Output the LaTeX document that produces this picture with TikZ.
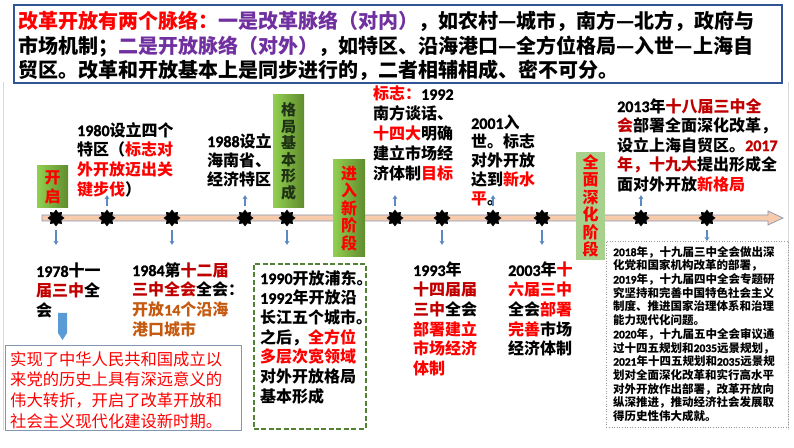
\documentclass[tikz,border=0pt]{standalone}
\usepackage{fontspec}
\setmainfont{Noto Sans CJK SC}
\newfontfamily\latf{Carlito}[BoldFont={Carlito Bold}, BoldFeatures={FakeBold=1.5}]
\usetikzlibrary{shapes.geometric,arrows.meta,positioning}
\definecolor{hired}{RGB}{255,0,0}
\definecolor{dkred}{RGB}{192,0,0}
\definecolor{purp}{RGB}{112,48,160}
\definecolor{brwn}{RGB}{197,90,17}
\definecolor{frameblue}{RGB}{47,85,151}
\definecolor{axisfill}{RGB}{248,203,173}
\definecolor{axisline}{RGB}{132,151,176}
\definecolor{arrblue}{RGB}{91,137,196}
\definecolor{bigblue}{RGB}{91,155,213}
\definecolor{dashgreen}{RGB}{84,130,53}
\definecolor{pgreen}{RGB}{146,208,80}
\definecolor{dgreen}{RGB}{96,140,46}
\definecolor{lgreen}{RGB}{169,209,142}
\definecolor{boxgray}{RGB}{132,151,176}
\newcommand{\dg}[1]{{\latf\bfseries #1}}
\newcommand{\rd}[1]{\textcolor{hired}{#1}}
\newcommand{\drd}[1]{\textcolor{dkred}{#1}}
\tikzset{
  txtnote/.style={inner sep=0pt, align=left, anchor=north west,
    font=\bfseries\fontsize{16}{19.7}\selectfont},
  phasebox/.style={inner sep=0pt, align=center, text=hired,
    left color=pgreen, right color=dgreen,
    font=\bfseries\fontsize{16}{17.5}\selectfont},
  star8/.style={star, star points=8, star point ratio=1.45, fill=black,
    inner sep=0pt, minimum size=17pt},
  smallarr/.style={arrblue, line width=1.3pt, -{Stealth[length=4pt,width=5pt]}},
  emptybox/.style={inner sep=0pt, anchor=north west}
}
\begin{document}
\begin{tikzpicture}[x=1pt,y=1pt]
\useasboundingbox (0,0) rectangle (794,447);
% slide frame
\draw[black!15, line width=1pt] (3,365) -- (3,17);
\draw[black!15, line width=1pt] (788,365) -- (788,17);

% intro box
\node[emptybox, draw=frameblue, line width=1.6pt, minimum width=768pt,
  minimum height=78pt] (topbox) at (13,443) {};
\node[txtnote, font=\bfseries\fontsize{20}{24.5}\selectfont] (intro) at (18,436)
  {\rd{改革开放有两个脉络：}\textcolor{purp}{一是改革脉络（对内）}，如农村—城市，南方—北方，政府与\\
   市场机制；\textcolor{purp}{二是开放脉络（对外）}，如特区、沿海港口—全方位格局—入世—上海自\\
   贸区。改革和开放基本上是同步进行的，二者相辅相成、密不可分。};

% time axis
\coordinate (ax0) at (42,229);
\coordinate (ax1) at (783,229);
\draw[axisline, fill=axisfill, line width=0.7pt]
  (ax0) ++(0,-3) -- (768,226) -- (768,222) -- (ax1) -- (768,236) -- (768,232)
  -- (42,232) -- cycle;

% phases
\node[phasebox, minimum width=31pt, minimum height=42pt,
  font=\bfseries\fontsize{16}{19}\selectfont] (kaiqi) at (52.5,260) {开\\启};
\node[phasebox, minimum width=31pt, minimum height=113pt, text={rgb,255:red,30;green,50;blue,20},
  font=\bfseries\fontsize{15}{16.6}\selectfont] (geju) at (288.5,295.5) {格\\局\\基\\本\\形\\成};
\node[phasebox, minimum width=32pt, minimum height=97pt] (jinru) at (349,238.5)
  {进\\入\\新\\阶\\段};
\node[phasebox, shade=none, fill=lgreen, minimum width=29pt, minimum height=108pt]
  (shenhua) at (590.5,241) {全\\面\\深\\化\\阶\\段};

% events on the axis
\foreach \n/\x in {1/56,2/107,3/172,4/245,5/287,6/395,7/442,8/493,9/542,10/641,11/707}
  \node[star8] (s\n) at (\x,229) {};

% above the axis
\node[txtnote] (t1980) at (77,325)
  {\dg{1980}设立四个\\特区（\rd{标志对}\\\rd{外开放迈出关}\\\rd{键步伐}）};
\node[txtnote, font=\bfseries\fontsize{16}{19}\selectfont] (t1988) at (207,314)
  {\dg{1988}设立\\海南省、\\经济特区};
\node[txtnote, font=\bfseries\fontsize{16}{20}\selectfont] (t1992) at (373,361)
  {\rd{标志：}\dg{1992}\\南方谈话、\\\rd{十四大}明确\\建立市场经\\济体制\rd{目标}};
\node[txtnote, font=\bfseries\fontsize{16}{19}\selectfont] (t2001) at (471,332)
  {\dg{2001}入\\世。标志\\对外开放\\达到\rd{新水}\\\rd{平}。};
\node[txtnote, font=\bfseries\fontsize{16}{19.5}\selectfont] (t2013) at (617,349)
  {\dg{2013}年\drd{十八届三中全}\\\drd{会}部署全面深化改革，\\设立上海自贸区。\drd{\dg{2017}}\\
   \drd{年，十九大}提出形成全\\面对外开放\rd{新格局}};

% below the axis
\node[txtnote] (t1978) at (36,184) {\dg{1978}十一\\\drd{届三中}全\\会};
\node[txtnote] (t1984) at (132,185)
  {\dg{1984}第\drd{十二届}\\\drd{三中全会}全会：\\\textcolor{brwn}{开放\dg{14}个沿海}\\\textcolor{brwn}{港口城市}};
\node[emptybox, draw=dashgreen, line width=1.8pt, dash pattern=on 5pt off 2.5pt,
  minimum width=112pt, minimum height=165pt] (bx1990) at (253,184) {};
\node[txtnote] (t1990) at (260,177)
  {\dg{1990}开放浦东。\\\dg{1992}年开放沿\\长江五个城市。\\之后，\rd{全方位}\\\rd{多层次宽领域}\\对外开放格局\\基本形成};
\node[txtnote] (t1993) at (413,185)
  {\dg{1993}年\\\drd{十四届届}\\\drd{三中}全会\\\rd{部署建立}\\\rd{市场经济}\\\rd{体制}};
\node[txtnote] (t2003) at (508,185)
  {\dg{2003}年\rd{十}\\\rd{六届三中}\\全会\rd{部署}\\\rd{完善}市场\\经济体制};

% 1978 box
\node[emptybox, draw=boxgray, line width=0.8pt, minimum width=236pt,
  minimum height=85pt] (bx1978) at (5,102) {};
\node[txtnote, text=hired, font=\fontsize{16.3}{20.7}\selectfont] (t1978b) at (10,96)
  {实现了中华人民共和国成立以\\来党的历史上具有深远意义的\\伟大转折，开启了改革开放和\\社会主义现代化建设新时期。};
\fill[bigblue] (58,134) -- (67,134) -- (67,114) -- (62.5,107) -- (58,114) -- cycle;

% 2018 box
\node[emptybox, draw=black!40, line width=0.6pt, dotted,
  minimum width=182pt, minimum height=186pt] (bx2018) at (606,206) {};
\node[txtnote, font=\bfseries\fontsize{11.5}{13.7}\selectfont] (t2018) at (613,201)
  {\dg{2018}年，十九届三中全会做出深\\化党和国家机构改革的部署，\\\dg{2019}年，十九届四中全会专题研\\
   究坚持和完善中国特色社会主义\\制度、推进国家治理体系和治理\\能力现代化问题。\\
   \dg{2020}年，十九届五中全会审议通\\过十四五规划和\dg{2035}远景规划，\\
   \dg{2021}年十四五规划和\dg{2035}远景规\\划对全面深化改革和实行高水平\\
   对外开放作出部署，改革开放向\\纵深推进，推动经济社会发展取\\得历史性伟大成就。};

% small arrows
\foreach \n in {2,4,6,8,10}
  \draw[smallarr] (s\n.north) ++(0,3) -- ++(0,11);
\foreach \n in {1,3,5,7,9}
  \draw[smallarr] (s\n.south) ++(0,-3) -- ++(0,-15);
\draw[smallarr] (s11.south) ++(0,-3) -- (s11.south |- bx2018.north);
\end{tikzpicture}
\end{document}
